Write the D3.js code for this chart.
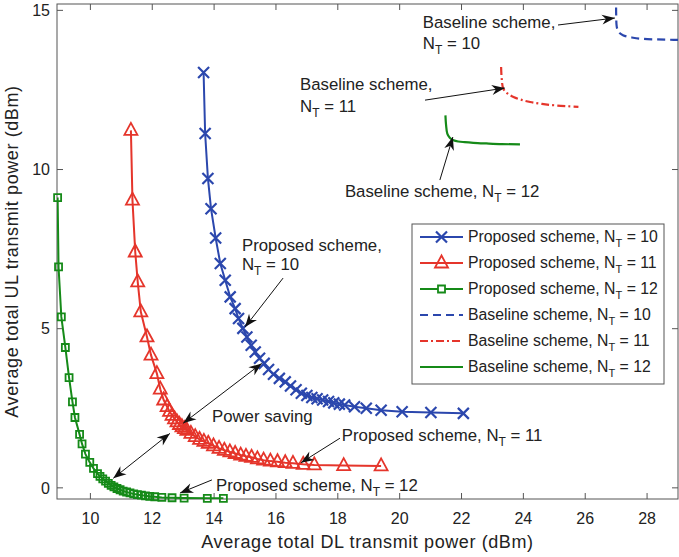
<!DOCTYPE html>
<html>
<head>
<meta charset="utf-8">
<script src="https://cdn.jsdelivr.net/npm/d3@7"></script>
<style>
  body { margin: 0; background: #fff; }
  text { font-family: "Liberation Sans", Arial, Helvetica, sans-serif; fill: #222; }
</style>
</head>
<body>
<svg id="chart"></svg>
<script>
var width = 679;
var height = 557;
var margin = { top: 4, right: 1, bottom: 58, left: 57 };
var chartWidth = width - margin.left - margin.right;
var chartHeight = height - margin.top - margin.bottom;

var xTicks = [10, 12, 14, 16, 18, 20, 22, 24, 26, 28];
var yTicks = [0, 5, 10, 15];

// proposed scheme curves
var prop10X = [13.66, 13.71, 13.80, 13.90, 14.05, 14.20, 14.36, 14.52, 14.68, 14.79, 14.93, 15.06, 15.20, 15.33, 15.47, 15.62, 15.76, 15.92, 16.11, 16.30, 16.47, 16.65, 16.82, 17.00, 17.16, 17.33, 17.51, 17.70, 17.87, 18.05, 18.22, 18.54, 18.92, 19.40, 20.08, 21.01, 22.06];
var prop10Y = [13.05, 11.13, 9.72, 8.77, 7.85, 7.05, 6.52, 6.00, 5.63, 5.32, 5.01, 4.74, 4.48, 4.27, 4.07, 3.91, 3.72, 3.57, 3.44, 3.33, 3.20, 3.08, 2.97, 2.90, 2.84, 2.80, 2.76, 2.71, 2.67, 2.63, 2.60, 2.55, 2.50, 2.44, 2.39, 2.37, 2.34];

var prop11X = [11.31, 11.36, 11.45, 11.53, 11.63, 11.83, 11.96, 12.15, 12.26, 12.37, 12.48, 12.56, 12.64, 12.72, 12.80, 12.88, 12.96, 13.04, 13.12, 13.25, 13.39, 13.53, 13.67, 13.81, 13.98, 14.16, 14.33, 14.51, 14.68, 14.86, 15.03, 15.21, 15.40, 15.60, 15.82, 16.05, 16.30, 16.55, 16.88, 17.24, 18.19, 19.40];
var prop11Y = [11.23, 9.04, 7.41, 6.47, 5.53, 4.74, 4.17, 3.59, 3.10, 2.76, 2.55, 2.40, 2.28, 2.17, 2.07, 1.99, 1.92, 1.86, 1.81, 1.71, 1.61, 1.52, 1.46, 1.40, 1.32, 1.24, 1.18, 1.13, 1.08, 1.03, 0.99, 0.96, 0.91, 0.87, 0.84, 0.82, 0.79, 0.77, 0.74, 0.72, 0.70, 0.69];

var prop12X = [8.94, 8.97, 9.06, 9.19, 9.31, 9.42, 9.50, 9.65, 9.73, 9.84, 9.98, 10.10, 10.23, 10.31, 10.40, 10.49, 10.58, 10.67, 10.76, 10.86, 10.96, 11.06, 11.17, 11.28, 11.40, 11.52, 11.65, 11.78, 11.92, 12.08, 12.31, 12.64, 13.03, 13.78, 14.30];
var prop12Y = [9.12, 6.94, 5.37, 4.41, 3.46, 2.70, 2.21, 1.68, 1.38, 1.06, 0.80, 0.61, 0.45, 0.36, 0.28, 0.21, 0.14, 0.08, 0.03, -0.02, -0.06, -0.10, -0.13, -0.16, -0.19, -0.21, -0.23, -0.25, -0.27, -0.28, -0.30, -0.31, -0.32, -0.33, -0.33];

// baseline scheme curves
var base10X = [27.00, 27.00, 27.02, 27.06, 27.12, 27.22, 27.34, 27.55, 27.80, 28.20, 28.60, 29.20];
var base10Y = [15.50, 14.90, 14.48, 14.36, 14.28, 14.22, 14.18, 14.14, 14.11, 14.09, 14.08, 14.07];
var base11X = [23.28, 23.30, 23.35, 23.45, 23.56, 23.68, 23.90, 24.22, 24.60, 25.10, 25.78];
var base11Y = [13.22, 12.85, 12.54, 12.42, 12.34, 12.28, 12.20, 12.12, 12.06, 12.01, 11.97];
var base12X = [21.48, 21.50, 21.54, 21.62, 21.74, 21.90, 22.10, 22.38, 22.80, 23.30, 23.89];
var base12Y = [11.70, 11.40, 11.13, 11.00, 10.92, 10.88, 10.86, 10.84, 10.82, 10.80, 10.79];

var blue = "#2b47ad";
var red = "#e5352b";
var green = "#158a18";

var legendNames = ["Proposed scheme, ", "Proposed scheme, ", "Proposed scheme, ", "Baseline scheme, ", "Baseline scheme, ", "Baseline scheme, "];
var legendNT = [10, 11, 12, 10, 11, 12];

var xScale = d3.scaleLinear().domain([8.92, 29]).range([0, chartWidth]);
var yScale = d3.scaleLinear().domain([-0.35, 15.2]).range([chartHeight, 0]);

var svg = d3.select("#chart").attr("width", width).attr("height", height);

var defs = svg.append("defs");
defs.append("clipPath").attr("id", "plotClip")
    .append("rect").attr("width", chartWidth).attr("height", chartHeight);

defs.append("marker")
    .attr("id", "arrowHead")
    .attr("viewBox", "-14 -6 16 12")
    .attr("refX", 0).attr("refY", 0)
    .attr("markerWidth", 16).attr("markerHeight", 12)
    .attr("markerUnits", "userSpaceOnUse")
    .attr("orient", "auto-start-reverse")
    .append("path")
    .attr("d", "M0,0 L-13,-5 L-9,0 L-13,5 Z")
    .attr("fill", "#111");

var g = svg.append("g").attr("transform", `translate(${margin.left},${margin.top})`);

// axes box with inward ticks
g.append("rect")
    .attr("width", chartWidth).attr("height", chartHeight)
    .attr("fill", "none").attr("stroke", "#555").attr("stroke-width", 1);

var tickLen = 6;
xTicks.forEach(function (t) {
    g.append("line").attr("x1", xScale(t)).attr("x2", xScale(t))
        .attr("y1", chartHeight).attr("y2", chartHeight - tickLen).attr("stroke", "#555");
    g.append("line").attr("x1", xScale(t)).attr("x2", xScale(t))
        .attr("y1", 0).attr("y2", tickLen).attr("stroke", "#555");
    g.append("text")
        .attr("x", xScale(t)).attr("y", chartHeight + 25)
        .attr("text-anchor", "middle").attr("font-size", "16px")
        .text(t);
});
yTicks.forEach(function (t) {
    g.append("line").attr("x1", 0).attr("x2", tickLen)
        .attr("y1", yScale(t)).attr("y2", yScale(t)).attr("stroke", "#555");
    g.append("line").attr("x1", chartWidth).attr("x2", chartWidth - tickLen)
        .attr("y1", yScale(t)).attr("y2", yScale(t)).attr("stroke", "#555");
    g.append("text")
        .attr("x", -7).attr("y", yScale(t)).attr("dy", "0.36em")
        .attr("text-anchor", "end").attr("font-size", "16px")
        .text(t);
});

g.append("text")
    .attr("x", chartWidth / 2).attr("y", chartHeight + 49)
    .attr("text-anchor", "middle").attr("font-size", "18px")
    .attr("letter-spacing", "0.6px")
    .text("Average total DL transmit power (dBm)");

g.append("text")
    .attr("transform", `translate(${-39},${chartHeight / 2}) rotate(-90)`)
    .attr("text-anchor", "middle").attr("font-size", "18px")
    .attr("letter-spacing", "0.6px")
    .text("Average total UL transmit power (dBm)");

function toPoints(xs, ys) {
    return xs.map(function (x, i) { return { x: x, y: ys[i] }; });
}

var line = d3.line().x(d => xScale(d.x)).y(d => yScale(d.y));
var smoothLine = d3.line().x(d => xScale(d.x)).y(d => yScale(d.y)).curve(d3.curveCatmullRom);

var plot = g.append("g").attr("clip-path", "url(#plotClip)");

// baseline curves
plot.append("path").datum(toPoints(base10X, base10Y))
    .attr("d", smoothLine).attr("fill", "none")
    .attr("stroke", blue).attr("stroke-width", 2.2).attr("stroke-dasharray", "8,5");
plot.append("path").datum(toPoints(base11X, base11Y))
    .attr("d", smoothLine).attr("fill", "none")
    .attr("stroke", red).attr("stroke-width", 2.2).attr("stroke-dasharray", "8,3,2,3");
plot.append("path").datum(toPoints(base12X, base12Y))
    .attr("d", smoothLine).attr("fill", "none")
    .attr("stroke", green).attr("stroke-width", 2.2);

// proposed curves
var series = [
    { xs: prop10X, ys: prop10Y, color: blue, marker: "x" },
    { xs: prop11X, ys: prop11Y, color: red, marker: "tri" },
    { xs: prop12X, ys: prop12Y, color: green, marker: "sq" }
];

function markerPath(type) {
    if (type == "x") return "M-5.5,-5.5L5.5,5.5M-5.5,5.5L5.5,-5.5";
    if (type == "tri") return "M0,-7.5L6.5,4.5L-6.5,4.5Z";
    return "M-3.5,-3.5L3.5,-3.5L3.5,3.5L-3.5,3.5Z";
}

series.forEach(function (s) {
    var pts = toPoints(s.xs, s.ys);
    plot.append("path").datum(pts)
        .attr("d", line).attr("fill", "none")
        .attr("stroke", s.color).attr("stroke-width", 2);
    g.selectAll(".m-" + s.marker)
        .data(pts)
        .enter().append("path")
        .attr("class", "m-" + s.marker)
        .attr("transform", d => `translate(${xScale(d.x)},${yScale(d.y)})`)
        .attr("d", markerPath(s.marker))
        .attr("fill", "none")
        .attr("stroke", s.color)
        .attr("stroke-width", s.marker == "x" ? 2.2 : 1.8);
});

// annotations
function ntText(sel, prefix, n, sub) {
    sel.append("tspan").text(prefix + "N");
    sel.append("tspan").attr("dy", 5).attr("font-size", sub).text("T");
    sel.append("tspan").attr("dy", -5).text(" = " + n);
}

var annSize = "16.8px";
function addText(x, y, str) {
    return g.append("text").attr("x", xScale(x)).attr("y", yScale(y))
        .attr("font-size", annSize).text(str);
}
function addNT(x, y, prefix, n) {
    var t = g.append("text").attr("x", xScale(x)).attr("y", yScale(y)).attr("font-size", annSize);
    ntText(t, prefix, n, "12px");
}
function addArrow(x1, y1, x2, y2, both) {
    var a = g.append("line")
        .attr("x1", xScale(x1)).attr("y1", yScale(y1))
        .attr("x2", xScale(x2)).attr("y2", yScale(y2))
        .attr("stroke", "#111").attr("stroke-width", 1)
        .attr("marker-end", "url(#arrowHead)");
    if (both) a.attr("marker-start", "url(#arrowHead)");
}

addText(20.75, 14.45, "Baseline scheme,");
addNT(20.75, 13.79, "", 10);
addArrow(25.12, 14.54, 26.96, 14.76);

addText(16.78, 12.50, "Baseline scheme,");
addNT(16.78, 11.81, "", 11);
addArrow(20.82, 12.18, 23.40, 12.56);

addNT(18.23, 9.14, "Baseline scheme, ", 12);
addArrow(21.30, 9.67, 21.72, 11.02);

addText(14.90, 7.44, "Proposed scheme,");
addNT(14.90, 6.84, "", 10);
addArrow(16.23, 6.59, 15.00, 5.05);

addText(13.93, 2.07, "Power saving");
addArrow(15.54, 3.91, 13.00, 2.03, true);
addArrow(12.57, 1.71, 10.74, 0.30, true);

addNT(18.13, 1.47, "Proposed scheme, ", 11);
addArrow(18.07, 1.56, 16.81, 0.79);

addNT(14.06, -0.10, "Proposed scheme, ", 12);
addArrow(13.93, 0.25, 12.90, -0.16);

// legend
var legendX = 412 - margin.left;
var legendY = 224 - margin.top;
var legend = g.append("g").attr("transform", `translate(${legendX},${legendY})`);
legend.append("rect")
    .attr("width", 252).attr("height", 160)
    .attr("fill", "#fff").attr("stroke", "#555").attr("stroke-width", 1);

var legendStyles = [
    { color: blue, dash: null, marker: "x" },
    { color: red, dash: null, marker: "tri" },
    { color: green, dash: null, marker: "sq" },
    { color: blue, dash: "8,5", marker: null },
    { color: red, dash: "8,3,2,3", marker: null },
    { color: green, dash: null, marker: null }
];

legendNames.forEach(function (name, i) {
    var yRow = 13 + i * 26;
    var st = legendStyles[i];
    var ln = legend.append("line")
        .attr("x1", 8).attr("x2", 51).attr("y1", yRow).attr("y2", yRow)
        .attr("stroke", st.color).attr("stroke-width", 2.2);
    if (st.dash) ln.attr("stroke-dasharray", st.dash);
    if (st.marker) {
        legend.append("path")
            .attr("transform", `translate(29.5,${yRow})`)
            .attr("d", markerPath(st.marker))
            .attr("fill", st.marker == "sq" ? "#fff" : "none")
            .attr("stroke", st.color)
            .attr("stroke-width", st.marker == "x" ? 2.2 : 1.8);
    }
    var t = legend.append("text").attr("x", 56).attr("y", yRow + 5).attr("font-size", "15.8px");
    ntText(t, name, legendNT[i], "11px");
});
</script>
</body>
</html>
